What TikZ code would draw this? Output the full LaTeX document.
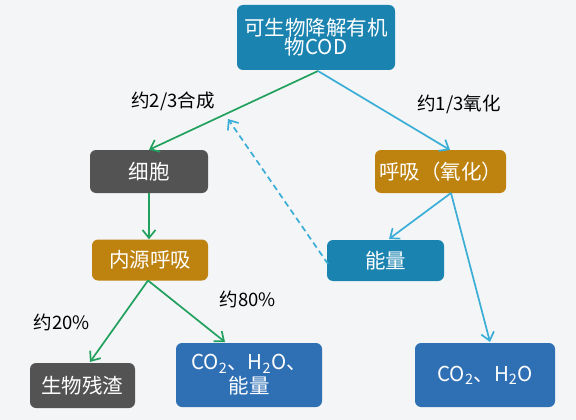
\documentclass[tikz,border=0pt]{standalone}
\usepackage{fontspec}
\setmainfont{Noto Sans CJK SC}
\usetikzlibrary{arrows.meta}
\definecolor{bg}{HTML}{F4F5F6}
\definecolor{teal}{HTML}{1B83B0}
\definecolor{gold}{HTML}{BE820F}
\definecolor{dgrey}{HTML}{535353}
\definecolor{mblue}{HTML}{2F70B5}
\definecolor{gline}{HTML}{22A05E}
\definecolor{bline}{HTML}{3AAED6}
\tikzset{
  box/.style={rounded corners=6pt, inner sep=0pt, text=white, font=\fontsize{20.5}{23}\selectfont, align=center},
  lbl/.style={font=\fontsize{18.5}{21}\selectfont, text=black},
  garr/.style={draw=gline, line width=1.7pt, -{Straight Barb[length=8pt,width=13pt]}},
  barr/.style={draw=bline, line width=1.7pt, -{Straight Barb[length=8pt,width=13pt]}},
}
\begin{document}
\begin{tikzpicture}[x=1pt,y=-1pt]
\fill[bg] (0,0) rectangle (576,420);
\useasboundingbox (0,0) rectangle (576,420);
% boxes
\node[box, fill=teal, minimum width=158pt, minimum height=65pt] (top) at (316,37.5) {可生物降解有机\\[-4pt]物COD};
\node[box, fill=dgrey, minimum width=118pt, minimum height=43pt] (cell) at (149,171.5) {细胞};
\node[box, fill=gold, minimum width=116pt, minimum height=41pt] (endo) at (150,260) {内源呼吸};
\node[box, fill=gold, minimum width=131pt, minimum height=43pt] (resp) at (440.5,171.5) {呼吸（氧化）};
\node[box, fill=teal, minimum width=117pt, minimum height=41pt] (energy) at (385.5,260.5) {能量};
\node[box, fill=dgrey, minimum width=105pt, minimum height=45pt] (resid) at (82.5,385.5) {生物残渣};
\node[box, fill=mblue, minimum width=146pt, minimum height=64pt] (co2a) at (249,375) {CO\textsubscript{2}、H\textsubscript{2}O、\\[1pt]能量};
\node[box, fill=mblue, minimum width=140pt, minimum height=64pt] (co2b) at (485,375) {CO\textsubscript{2}、H\textsubscript{2}O};
% coordinates
\coordinate (topb) at (318,71);
\coordinate (dashend) at (228,119);
\coordinate (energyl) at (328,264);
% arrows
\draw[garr] (topb) -- (cell.north);
\draw[barr] (topb) -- (450,150);
\draw[garr] (cell.south) -- (endo.north -| cell.south);
\draw[garr] (148,280.5) -- (90,362);
\draw[garr] (148,280.5) -- (225,342);
\draw[barr] (451,193) -- (389,239);
\draw[barr] (451,193) -- (490,342);
\draw[bline, line width=1.7pt, dash pattern=on 6pt off 4pt, -{Straight Barb[length=8pt,width=13pt]}] (energyl) -- (dashend);
% labels
\node[lbl] (l1) at (173,101) {约2/3合成};
\node[lbl] (l2) at (459,104) {约1/3氧化};
\node[lbl] (l3) at (248,299) {约80\%};
\node[lbl] (l4) at (62,322) {约20\%};
\end{tikzpicture}
\end{document}
